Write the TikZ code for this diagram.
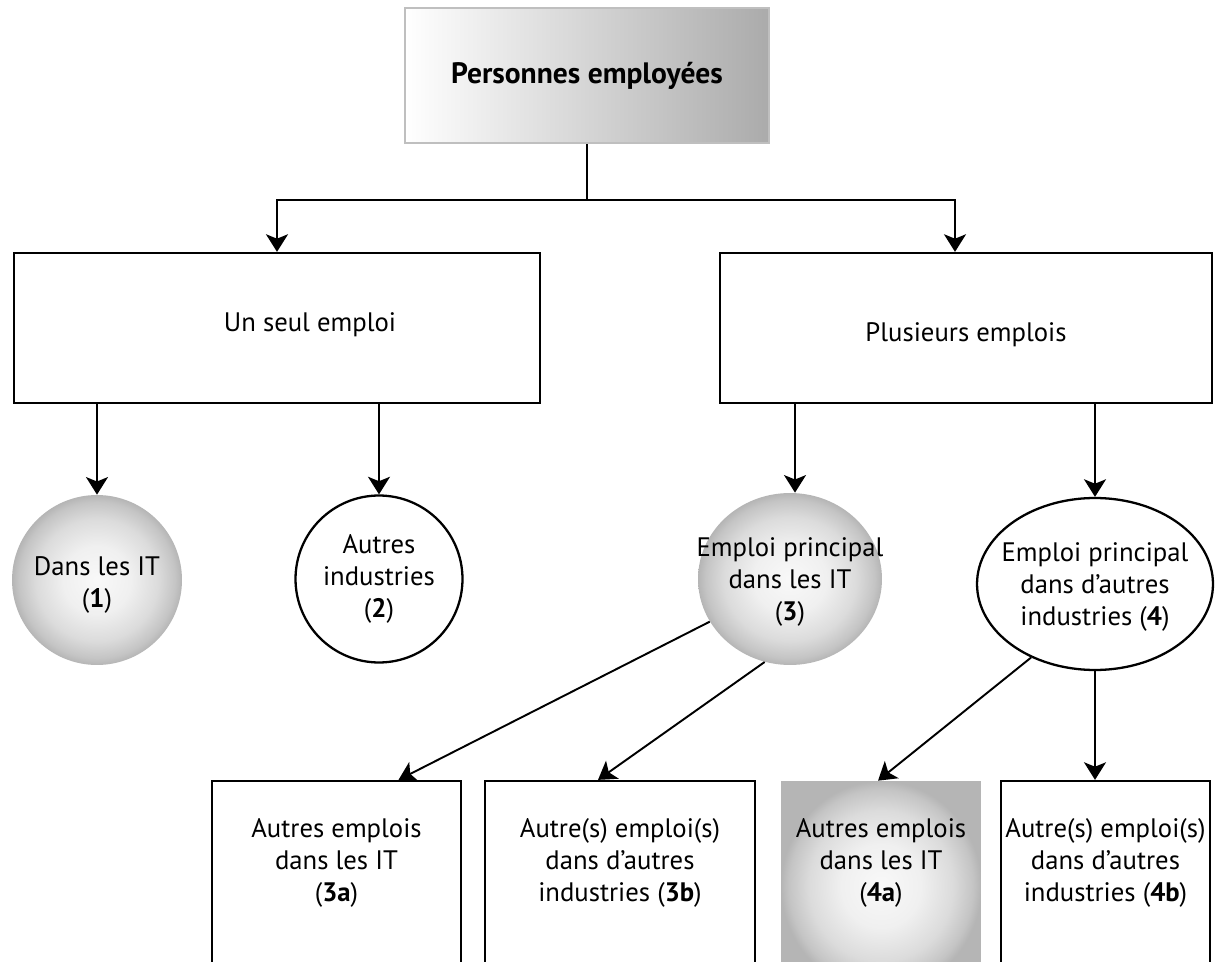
\documentclass[tikz,border=0pt]{standalone}
\usepackage{fontspec}
\setmainfont{PT Sans}
\usetikzlibrary{arrows.meta,shapes.geometric}

\pgfdeclareradialshading{orb}{\pgfpoint{0bp}{0bp}}{color(0bp)=(gray!5); color(10bp)=(gray!12);
	color(18bp)=(gray!28); color(23bp)=(gray!46); color(25bp)=(gray!58); color(50bp)=(gray!58)}

\begin{document}
\begin{tikzpicture}[x=0.02cm, y=-0.02cm, font=\fontsize{15.2}{18}\selectfont,
	every node/.style={align=center},
	every label/.style={align=center},
	arr/.style={line width=1.1pt, -{Stealth[length=10pt,width=12.5pt,inset=2.5pt]}},
	box/.style={draw, line width=1.3pt, rectangle},
	ball/.style={shading=orb},
	ring/.style={draw, line width=1.3pt}]

	\useasboundingbox (0,0) rectangle (1230,962);

%top
	\node[draw=gray!50, line width=1.3pt, left color=white, right color=gray!66,
		minimum width=7.28cm, minimum height=2.7cm, font=\fontsize{16.8}{18}\selectfont\bfseries] (pers) at (587,75.5) {Personnes employées};

%level 1
	\node[box, minimum width=10.52cm, minimum height=3cm,
		label={[xshift=0.66cm, yshift=0.06cm]center:Un seul emploi}] (seul) at (277,328) {};
	\node[box, minimum width=9.84cm, minimum height=3cm,
		label={[yshift=-0.14cm]center:Plusieurs emplois}] (plus) at (966,328) {};

%level 2
	\node[circle, ball, minimum size=3.4cm, label={[yshift=-0.1cm]center:Dans les IT\\(\textbf{1})}] (itA) at (97,580) {};
	\node[circle, ring, minimum size=3.34cm, label={center:Autres\\industries\\(\textbf{2})}] (autA) at (379,579) {};
	\node[ellipse, ball, minimum width=3.68cm, minimum height=3.44cm,
		label={[yshift=-0.06cm]center:Emploi principal\\dans les IT\\(\textbf{3})}] (itB) at (790,579) {};
	\node[ellipse, ring, minimum width=4.72cm, minimum height=3.44cm,
		label={[yshift=-0.06cm]center:Emploi principal\\dans d’autres\\industries (\textbf{4})}] (autB) at (1095,584) {};

%level 3
	\node[box, minimum width=4.98cm, minimum height=4.2cm,
		label={[yshift=0.46cm]center:Autres emplois\\dans les IT\\(\textbf{3a})}] (itC) at (336.5,886) {};
	\node[box, minimum width=5.4cm, minimum height=4.2cm,
		label={[yshift=0.46cm]center:Autre(s) emploi(s)\\dans d’autres\\industries (\textbf{3b})}] (autC) at (620,886) {};
	\node[ball, rectangle, minimum width=4cm, minimum height=4.2cm,
		label={[yshift=0.46cm]center:Autres emplois\\dans les IT\\(\textbf{4a})}] (itD) at (881,886) {};
	\node[box, minimum width=4.18cm, minimum height=4.2cm,
		label={[yshift=0.46cm]center:Autre(s) emploi(s)\\dans d’autres\\industries (\textbf{4b})}] (autD) at (1105.5,886) {};

%connectors
	\coordinate (fork) at (587,200);
	\draw[line width=1.1pt] (pers) -- (fork);
	\draw[arr] (fork) -| (seul);
	\draw[arr] (fork) -| ([xshift=-0.22cm]plus.north);

	\draw[arr] (itA |- seul.south) -- (itA);
	\draw[arr] (autA |- seul.south) -- (autA);
	\draw[arr] ([xshift=0.1cm]itB.north |- plus.south) -- ([xshift=0.1cm]itB.north);
	\draw[arr] (autB |- plus.south) -- (autB);

	\draw[arr] (itB.208) -- ([xshift=1.24cm]itC.north);
	\draw[arr] (itB.253) -- ([xshift=-0.44cm]autC.north);
	\draw[arr] (autB.229) -- ([xshift=-0.06cm]itD.north);
	\draw[arr] (autB.south) -- (autB.south |- autD.north);

\end{tikzpicture}
\end{document}
